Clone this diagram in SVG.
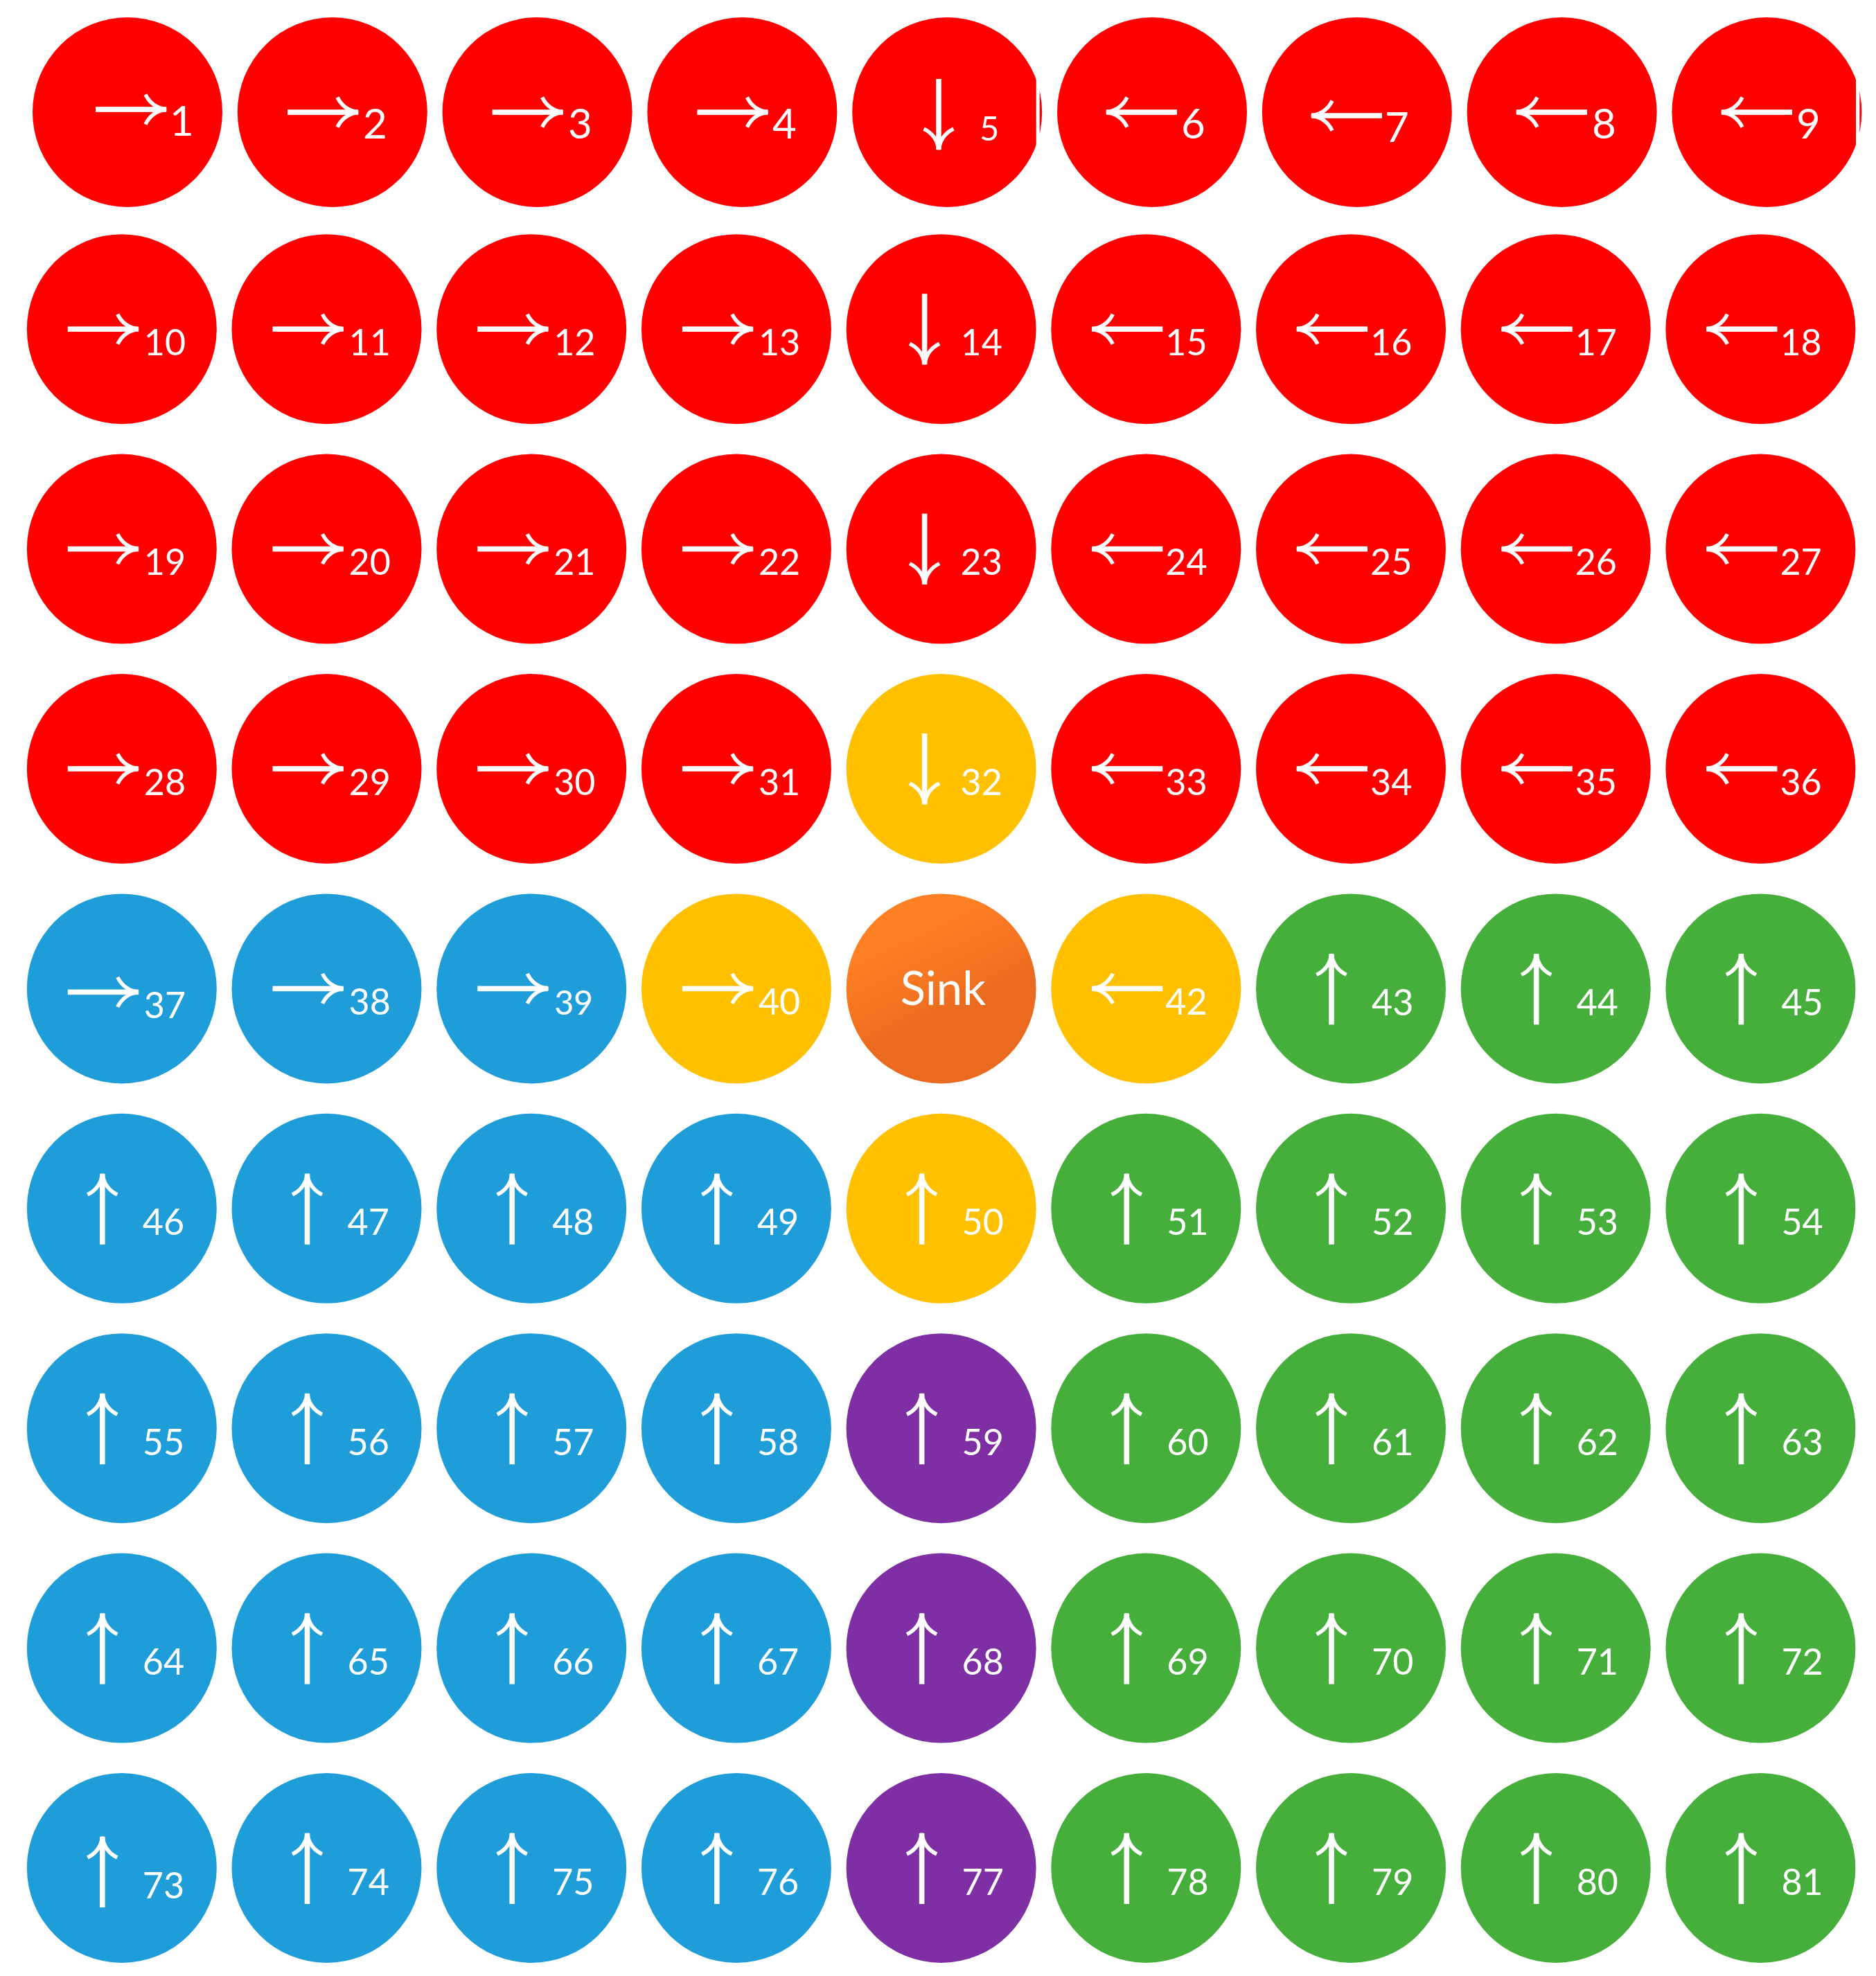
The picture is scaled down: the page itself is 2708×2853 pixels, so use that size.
<svg xmlns="http://www.w3.org/2000/svg" xmlns:xlink="http://www.w3.org/1999/xlink" width="2708" height="2853" viewBox="0 0 2708 2853">
<style>
.r{fill:#FF0000}.b{fill:#1F9DD8}.y{fill:#FFC000}.g{fill:#46AF3C}.p{fill:#7E2FA3}
text{fill:#fff;font-family:Lato,"Open Sans","Noto Sans",sans-serif;font-weight:400}
.l{font-size:52px}.l1{font-size:60px}
</style>
<defs>
<g id="ar" fill="#fff"><rect x="-102" y="-3.8" width="102" height="7.6"/><path d="M-30,-21.5 Q-21,-3 0,0 Q-21,3 -30,21.5" fill="none" stroke="#fff" stroke-width="5.5"/></g>
<linearGradient id="sinkg" x1="0.35" y1="0.2" x2="0.55" y2="0.62"><stop offset="0" stop-color="#FF7F25"/><stop offset="0.55" stop-color="#F57622"/><stop offset="1" stop-color="#EA6B1F"/></linearGradient>
<clipPath id="c5" clipPathUnits="userSpaceOnUse"><rect x="1200" y="0" width="295.7" height="330"/><rect x="1500.7" y="0" width="20" height="330"/></clipPath>
<clipPath id="c9" clipPathUnits="userSpaceOnUse"><rect x="2400" y="0" width="279" height="330"/><rect x="2684.3" y="0" width="20" height="330"/></clipPath>
</defs>
<g id="connectors"/>
<g id="nodes">
<g id="n1"><circle class="r" cx="184" cy="162" r="137"/><use xlink:href="#ar" transform="translate(240,158)"/><text class="l1" x="245" y="196">1</text></g>
<g id="n2"><circle class="r" cx="479.8" cy="162" r="137"/><use xlink:href="#ar" transform="translate(517,162)"/><text class="l1" x="524" y="200">2</text></g>
<g id="n3"><circle class="r" cx="775.6" cy="162" r="137"/><use xlink:href="#ar" transform="translate(812.6,162)"/><text class="l1" x="820" y="200">3</text></g>
<g id="n4"><circle class="r" cx="1071.4" cy="162" r="137"/><use xlink:href="#ar" transform="translate(1108.4,162)"/><text class="l1" x="1115" y="200">4</text></g>
<g id="n5"><circle class="r" cx="1367.2" cy="162" r="137" clip-path="url(#c5)"/><use xlink:href="#ar" transform="translate(1355,216) rotate(90)"/><text x="1414" y="202.7" style="font-size:49px">5</text></g>
<g id="n6"><circle class="r" cx="1663" cy="162" r="137"/><use xlink:href="#ar" transform="translate(1597,162) rotate(180)"/><text class="l1" x="1705" y="200">6</text></g>
<g id="n7"><circle class="r" cx="1958.8" cy="162" r="137"/><use xlink:href="#ar" transform="translate(1893,167) rotate(180)"/><text class="l1" x="1999" y="205">7</text></g>
<g id="n8"><circle class="r" cx="2254.6" cy="162" r="137"/><use xlink:href="#ar" transform="translate(2189,162) rotate(180)"/><text class="l1" x="2298" y="200">8</text></g>
<g id="n9"><circle class="r" cx="2550.4" cy="162" r="137" clip-path="url(#c9)"/><use xlink:href="#ar" transform="translate(2485,162) rotate(180)"/><text class="l1" x="2593" y="200">9</text></g>

<g id="n10"><circle class="r" cx="175.8" cy="475.2" r="137"/><use xlink:href="#ar" transform="translate(199.8,475.2)"/><text class="l" x="207.8" y="512.7">10</text></g>
<g id="n11"><circle class="r" cx="471.5" cy="475.2" r="137"/><use xlink:href="#ar" transform="translate(495.5,475.2)"/><text class="l" x="503.5" y="512.7">11</text></g>
<g id="n12"><circle class="r" cx="767.2" cy="475.2" r="137"/><use xlink:href="#ar" transform="translate(791.2,475.2)"/><text class="l" x="799.2" y="512.7">12</text></g>
<g id="n13"><circle class="r" cx="1062.9" cy="475.2" r="137"/><use xlink:href="#ar" transform="translate(1086.9,475.2)"/><text class="l" x="1094.9" y="512.7">13</text></g>
<g id="n14"><circle class="r" cx="1358.6" cy="475.2" r="137"/><use xlink:href="#ar" transform="translate(1334.6,526.2) rotate(90)"/><text class="l" x="1386.6" y="512.7">14</text></g>
<g id="n15"><circle class="r" cx="1654.3" cy="475.2" r="137"/><use xlink:href="#ar" transform="translate(1576.3,475.2) rotate(180)"/><text class="l" x="1682.3" y="512.7">15</text></g>
<g id="n16"><circle class="r" cx="1950" cy="475.2" r="137"/><use xlink:href="#ar" transform="translate(1872,475.2) rotate(180)"/><text class="l" x="1978" y="512.7">16</text></g>
<g id="n17"><circle class="r" cx="2245.7" cy="475.2" r="137"/><use xlink:href="#ar" transform="translate(2167.7,475.2) rotate(180)"/><text class="l" x="2273.7" y="512.7">17</text></g>
<g id="n18"><circle class="r" cx="2541.4" cy="475.2" r="137"/><use xlink:href="#ar" transform="translate(2463.4,475.2) rotate(180)"/><text class="l" x="2569.4" y="512.7">18</text></g>

<g id="n19"><circle class="r" cx="175.8" cy="792.6" r="137"/><use xlink:href="#ar" transform="translate(199.8,792.6)"/><text class="l" x="207.8" y="830.1">19</text></g>
<g id="n20"><circle class="r" cx="471.5" cy="792.6" r="137"/><use xlink:href="#ar" transform="translate(495.5,792.6)"/><text class="l" x="503.5" y="830.1">20</text></g>
<g id="n21"><circle class="r" cx="767.2" cy="792.6" r="137"/><use xlink:href="#ar" transform="translate(791.2,792.6)"/><text class="l" x="799.2" y="830.1">21</text></g>
<g id="n22"><circle class="r" cx="1062.9" cy="792.6" r="137"/><use xlink:href="#ar" transform="translate(1086.9,792.6)"/><text class="l" x="1094.9" y="830.1">22</text></g>
<g id="n23"><circle class="r" cx="1358.6" cy="792.6" r="137"/><use xlink:href="#ar" transform="translate(1334.6,843.6) rotate(90)"/><text class="l" x="1386.6" y="830.1">23</text></g>
<g id="n24"><circle class="r" cx="1654.3" cy="792.6" r="137"/><use xlink:href="#ar" transform="translate(1576.3,792.6) rotate(180)"/><text class="l" x="1682.3" y="830.1">24</text></g>
<g id="n25"><circle class="r" cx="1950" cy="792.6" r="137"/><use xlink:href="#ar" transform="translate(1872,792.6) rotate(180)"/><text class="l" x="1978" y="830.1">25</text></g>
<g id="n26"><circle class="r" cx="2245.7" cy="792.6" r="137"/><use xlink:href="#ar" transform="translate(2167.7,792.6) rotate(180)"/><text class="l" x="2273.7" y="830.1">26</text></g>
<g id="n27"><circle class="r" cx="2541.4" cy="792.6" r="137"/><use xlink:href="#ar" transform="translate(2463.4,792.6) rotate(180)"/><text class="l" x="2569.4" y="830.1">27</text></g>

<g id="n28"><circle class="r" cx="175.8" cy="1110" r="137"/><use xlink:href="#ar" transform="translate(199.8,1110)"/><text class="l" x="207.8" y="1147.5">28</text></g>
<g id="n29"><circle class="r" cx="471.5" cy="1110" r="137"/><use xlink:href="#ar" transform="translate(495.5,1110)"/><text class="l" x="503.5" y="1147.5">29</text></g>
<g id="n30"><circle class="r" cx="767.2" cy="1110" r="137"/><use xlink:href="#ar" transform="translate(791.2,1110)"/><text class="l" x="799.2" y="1147.5">30</text></g>
<g id="n31"><circle class="r" cx="1062.9" cy="1110" r="137"/><use xlink:href="#ar" transform="translate(1086.9,1110)"/><text class="l" x="1094.9" y="1147.5">31</text></g>
<g id="n32"><circle class="y" cx="1358.6" cy="1110" r="137"/><use xlink:href="#ar" transform="translate(1334.6,1161) rotate(90)"/><text class="l" x="1386.6" y="1147.5">32</text></g>
<g id="n33"><circle class="r" cx="1654.3" cy="1110" r="137"/><use xlink:href="#ar" transform="translate(1576.3,1110) rotate(180)"/><text class="l" x="1682.3" y="1147.5">33</text></g>
<g id="n34"><circle class="r" cx="1950" cy="1110" r="137"/><use xlink:href="#ar" transform="translate(1872,1110) rotate(180)"/><text class="l" x="1978" y="1147.5">34</text></g>
<g id="n35"><circle class="r" cx="2245.7" cy="1110" r="137"/><use xlink:href="#ar" transform="translate(2167.7,1110) rotate(180)"/><text class="l" x="2273.7" y="1147.5">35</text></g>
<g id="n36"><circle class="r" cx="2541.4" cy="1110" r="137"/><use xlink:href="#ar" transform="translate(2463.4,1110) rotate(180)"/><text class="l" x="2569.4" y="1147.5">36</text></g>

<g id="n37"><circle class="b" cx="175.8" cy="1427.4" r="137"/><use xlink:href="#ar" transform="translate(199.8,1432.4)"/><text class="l" x="207.8" y="1469.9">37</text></g>
<g id="n38"><circle class="b" cx="471.5" cy="1427.4" r="137"/><use xlink:href="#ar" transform="translate(495.5,1427.4)"/><text class="l" x="503.5" y="1464.9">38</text></g>
<g id="n39"><circle class="b" cx="767.2" cy="1427.4" r="137"/><use xlink:href="#ar" transform="translate(791.2,1427.4)"/><text x="800.2" y="1464.9" style="font-size:48px">39</text></g>
<g id="n40"><circle class="y" cx="1062.9" cy="1427.4" r="137"/><use xlink:href="#ar" transform="translate(1086.9,1427.4)"/><text class="l" x="1094.9" y="1464.9">40</text></g>
<g id="sink"><circle fill="url(#sinkg)" cx="1358.6" cy="1427.4" r="137"/><text x="1361.5" y="1451" text-anchor="middle" style="font-size:67px">Sink</text></g>
<g id="n42"><circle class="y" cx="1654.3" cy="1427.4" r="137"/><use xlink:href="#ar" transform="translate(1576.3,1427.4) rotate(180)"/><text class="l" x="1682.3" y="1464.9">42</text></g>
<g id="n43"><circle class="g" cx="1950" cy="1427.4" r="137"/><use xlink:href="#ar" transform="translate(1922,1377.4) rotate(-90)"/><text class="l" x="1980" y="1465.9">43</text></g>
<g id="n44"><circle class="g" cx="2245.7" cy="1427.4" r="137"/><use xlink:href="#ar" transform="translate(2217.7,1377.4) rotate(-90)"/><text class="l" x="2275.7" y="1465.9">44</text></g>
<g id="n45"><circle class="g" cx="2541.4" cy="1427.4" r="137"/><use xlink:href="#ar" transform="translate(2513.4,1377.4) rotate(-90)"/><text class="l" x="2571.4" y="1465.9">45</text></g>

<g id="n46"><circle class="b" cx="175.8" cy="1744.8" r="137"/><use xlink:href="#ar" transform="translate(147.8,1694.8) rotate(-90)"/><text class="l" x="205.8" y="1783.3">46</text></g>
<g id="n47"><circle class="b" cx="471.5" cy="1744.8" r="137"/><use xlink:href="#ar" transform="translate(443.5,1694.8) rotate(-90)"/><text class="l" x="501.5" y="1783.3">47</text></g>
<g id="n48"><circle class="b" cx="767.2" cy="1744.8" r="137"/><use xlink:href="#ar" transform="translate(739.2,1694.8) rotate(-90)"/><text class="l" x="797.2" y="1783.3">48</text></g>
<g id="n49"><circle class="b" cx="1062.9" cy="1744.8" r="137"/><use xlink:href="#ar" transform="translate(1034.9,1694.8) rotate(-90)"/><text class="l" x="1092.9" y="1783.3">49</text></g>
<g id="n50"><circle class="y" cx="1358.6" cy="1744.8" r="137"/><use xlink:href="#ar" transform="translate(1330.6,1694.8) rotate(-90)"/><text class="l" x="1388.6" y="1783.3">50</text></g>
<g id="n51"><circle class="g" cx="1654.3" cy="1744.8" r="137"/><use xlink:href="#ar" transform="translate(1626.3,1694.8) rotate(-90)"/><text class="l" x="1684.3" y="1783.3">51</text></g>
<g id="n52"><circle class="g" cx="1950" cy="1744.8" r="137"/><use xlink:href="#ar" transform="translate(1922,1694.8) rotate(-90)"/><text class="l" x="1980" y="1783.3">52</text></g>
<g id="n53"><circle class="g" cx="2245.7" cy="1744.8" r="137"/><use xlink:href="#ar" transform="translate(2217.7,1694.8) rotate(-90)"/><text class="l" x="2275.7" y="1783.3">53</text></g>
<g id="n54"><circle class="g" cx="2541.4" cy="1744.8" r="137"/><use xlink:href="#ar" transform="translate(2513.4,1694.8) rotate(-90)"/><text class="l" x="2571.4" y="1783.3">54</text></g>

<g id="n55"><circle class="b" cx="175.8" cy="2062.2" r="137"/><use xlink:href="#ar" transform="translate(147.8,2012.2) rotate(-90)"/><text class="l" x="205.8" y="2100.7">55</text></g>
<g id="n56"><circle class="b" cx="471.5" cy="2062.2" r="137"/><use xlink:href="#ar" transform="translate(443.5,2012.2) rotate(-90)"/><text class="l" x="501.5" y="2100.7">56</text></g>
<g id="n57"><circle class="b" cx="767.2" cy="2062.2" r="137"/><use xlink:href="#ar" transform="translate(739.2,2012.2) rotate(-90)"/><text class="l" x="797.2" y="2100.7">57</text></g>
<g id="n58"><circle class="b" cx="1062.9" cy="2062.2" r="137"/><use xlink:href="#ar" transform="translate(1034.9,2012.2) rotate(-90)"/><text class="l" x="1092.9" y="2100.7">58</text></g>
<g id="n59"><circle class="p" cx="1358.6" cy="2062.2" r="137"/><use xlink:href="#ar" transform="translate(1330.6,2012.2) rotate(-90)"/><text class="l" x="1388.6" y="2100.7">59</text></g>
<g id="n60"><circle class="g" cx="1654.3" cy="2062.2" r="137"/><use xlink:href="#ar" transform="translate(1626.3,2012.2) rotate(-90)"/><text class="l" x="1684.3" y="2100.7">60</text></g>
<g id="n61"><circle class="g" cx="1950" cy="2062.2" r="137"/><use xlink:href="#ar" transform="translate(1922,2012.2) rotate(-90)"/><text class="l" x="1980" y="2100.7">61</text></g>
<g id="n62"><circle class="g" cx="2245.7" cy="2062.2" r="137"/><use xlink:href="#ar" transform="translate(2217.7,2012.2) rotate(-90)"/><text class="l" x="2275.7" y="2100.7">62</text></g>
<g id="n63"><circle class="g" cx="2541.4" cy="2062.2" r="137"/><use xlink:href="#ar" transform="translate(2513.4,2012.2) rotate(-90)"/><text class="l" x="2571.4" y="2100.7">63</text></g>

<g id="n64"><circle class="b" cx="175.8" cy="2379.6" r="137"/><use xlink:href="#ar" transform="translate(147.8,2329.6) rotate(-90)"/><text class="l" x="205.8" y="2418.1">64</text></g>
<g id="n65"><circle class="b" cx="471.5" cy="2379.6" r="137"/><use xlink:href="#ar" transform="translate(443.5,2329.6) rotate(-90)"/><text class="l" x="501.5" y="2418.1">65</text></g>
<g id="n66"><circle class="b" cx="767.2" cy="2379.6" r="137"/><use xlink:href="#ar" transform="translate(739.2,2329.6) rotate(-90)"/><text class="l" x="797.2" y="2418.1">66</text></g>
<g id="n67"><circle class="b" cx="1062.9" cy="2379.6" r="137"/><use xlink:href="#ar" transform="translate(1034.9,2329.6) rotate(-90)"/><text class="l" x="1092.9" y="2418.1">67</text></g>
<g id="n68"><circle class="p" cx="1358.6" cy="2379.6" r="137"/><use xlink:href="#ar" transform="translate(1330.6,2329.6) rotate(-90)"/><text class="l" x="1388.6" y="2418.1">68</text></g>
<g id="n69"><circle class="g" cx="1654.3" cy="2379.6" r="137"/><use xlink:href="#ar" transform="translate(1626.3,2329.6) rotate(-90)"/><text class="l" x="1684.3" y="2418.1">69</text></g>
<g id="n70"><circle class="g" cx="1950" cy="2379.6" r="137"/><use xlink:href="#ar" transform="translate(1922,2329.6) rotate(-90)"/><text class="l" x="1980" y="2418.1">70</text></g>
<g id="n71"><circle class="g" cx="2245.7" cy="2379.6" r="137"/><use xlink:href="#ar" transform="translate(2217.7,2329.6) rotate(-90)"/><text class="l" x="2275.7" y="2418.1">71</text></g>
<g id="n72"><circle class="g" cx="2541.4" cy="2379.6" r="137"/><use xlink:href="#ar" transform="translate(2513.4,2329.6) rotate(-90)"/><text class="l" x="2571.4" y="2418.1">72</text></g>

<g id="n73"><circle class="b" cx="175.8" cy="2697" r="137"/><use xlink:href="#ar" transform="translate(147.8,2652) rotate(-90)"/><text class="l" x="205.8" y="2740.5">73</text></g>
<g id="n74"><circle class="b" cx="471.5" cy="2697" r="137"/><use xlink:href="#ar" transform="translate(443.5,2647) rotate(-90)"/><text class="l" x="501.5" y="2735.5">74</text></g>
<g id="n75"><circle class="b" cx="767.2" cy="2697" r="137"/><use xlink:href="#ar" transform="translate(739.2,2647) rotate(-90)"/><text class="l" x="797.2" y="2735.5">75</text></g>
<g id="n76"><circle class="b" cx="1062.9" cy="2697" r="137"/><use xlink:href="#ar" transform="translate(1034.9,2647) rotate(-90)"/><text class="l" x="1092.9" y="2735.5">76</text></g>
<g id="n77"><circle class="p" cx="1358.6" cy="2697" r="137"/><use xlink:href="#ar" transform="translate(1330.6,2647) rotate(-90)"/><text class="l" x="1388.6" y="2735.5">77</text></g>
<g id="n78"><circle class="g" cx="1654.3" cy="2697" r="137"/><use xlink:href="#ar" transform="translate(1626.3,2647) rotate(-90)"/><text class="l" x="1684.3" y="2735.5">78</text></g>
<g id="n79"><circle class="g" cx="1950" cy="2697" r="137"/><use xlink:href="#ar" transform="translate(1922,2647) rotate(-90)"/><text class="l" x="1980" y="2735.5">79</text></g>
<g id="n80"><circle class="g" cx="2245.7" cy="2697" r="137"/><use xlink:href="#ar" transform="translate(2217.7,2647) rotate(-90)"/><text class="l" x="2275.7" y="2735.5">80</text></g>
<g id="n81"><circle class="g" cx="2541.4" cy="2697" r="137"/><use xlink:href="#ar" transform="translate(2513.4,2647) rotate(-90)"/><text class="l" x="2571.4" y="2735.5">81</text></g>
</g>
</svg>
